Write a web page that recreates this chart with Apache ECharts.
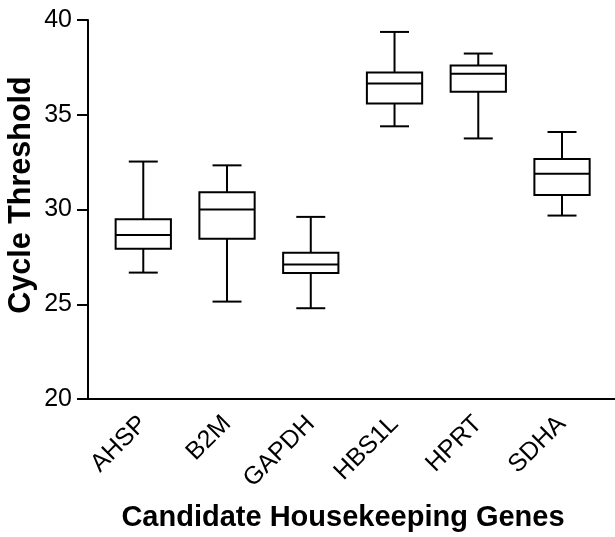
<!DOCTYPE html>
<html>
<head>
<meta charset="utf-8">
<script src="https://cdn.jsdelivr.net/npm/echarts@6/dist/echarts.min.js"></script>
<style>
html,body{margin:0;padding:0;background:#fff;}
#chart{width:615px;height:537px;}
</style>
</head>
<body>
<div id="chart"></div>
<script>
// ---- data ----
const categories = ['AHSP', 'B2M', 'GAPDH', 'HBS1L', 'HPRT', 'SDHA'];
const whiskerLow  = [26.67, 25.14, 24.79, 34.39, 33.75, 29.68];
const quartile1   = [27.93, 28.46, 26.65, 35.60, 36.21, 30.77];
const median      = [28.65, 30.00, 27.10, 36.65, 37.17, 31.89];
const quartile3   = [29.49, 30.91, 27.72, 37.23, 37.60, 32.67];
const whiskerHigh = [32.53, 32.33, 29.61, 39.37, 38.23, 34.09];
const yTicks = [20, 25, 30, 35, 40];
const xTitle = 'Candidate Housekeeping Genes';
const yTitle = 'Cycle Threshold';

const FONT = '"Liberation Sans", Arial, Helvetica, sans-serif';
const boxData = categories.map((c, i) => [i, whiskerLow[i], quartile1[i], median[i], quartile3[i], whiskerHigh[i]]);

function renderBox(params, api) {
  const x = api.value(0);
  const pMin = api.coord([x, api.value(1)]);
  const pQ1 = api.coord([x, api.value(2)]);
  const pMed = api.coord([x, api.value(3)]);
  const pQ3 = api.coord([x, api.value(4)]);
  const pMax = api.coord([x, api.value(5)]);
  const band = api.size([1, 0])[0];
  const bw = band * 0.66 / 2;
  const cw = band * 0.346 / 2;
  const cx = pMed[0];
  const st = { stroke: '#000', lineWidth: 2, fill: null };
  return {
    type: 'group',
    children: [
      { type: 'line', shape: { x1: cx, y1: pMax[1], x2: cx, y2: pQ3[1] }, style: st },
      { type: 'line', shape: { x1: cx, y1: pQ1[1], x2: cx, y2: pMin[1] }, style: st },
      { type: 'line', shape: { x1: cx - cw, y1: pMax[1], x2: cx + cw, y2: pMax[1] }, style: st },
      { type: 'line', shape: { x1: cx - cw, y1: pMin[1], x2: cx + cw, y2: pMin[1] }, style: st },
      { type: 'rect', shape: { x: cx - bw, y: pQ3[1], width: 2 * bw, height: pQ1[1] - pQ3[1] }, style: { stroke: '#000', lineWidth: 2, fill: '#fff' } },
      { type: 'line', shape: { x1: cx - bw, y1: pMed[1], x2: cx + bw, y2: pMed[1] }, style: st }
    ]
  };
}

const chart = echarts.init(document.getElementById('chart'), null, { renderer: 'canvas' });
chart.setOption({
  backgroundColor: '#fff',
  animation: false,
  grid: [
    { left: 88, right: 0, top: 20, bottom: 138 },
    { left: 101.4, right: 11.1, top: 20, bottom: 138 }
  ],
  xAxis: [
    {
      gridIndex: 0, type: 'value', min: 0, max: 1,
      axisLine: { show: true, lineStyle: { color: '#000', width: 2 } },
      axisTick: { show: false }, axisLabel: { show: false }, splitLine: { show: false }
    },
    {
      gridIndex: 1, type: 'category', data: categories,
      axisLine: { show: false }, axisTick: { show: false }, splitLine: { show: false },
      axisLabel: { rotate: 45, margin: 21, color: '#000', fontSize: 25, fontFamily: FONT, interval: 0 }
    }
  ],
  yAxis: [
    {
      gridIndex: 0, type: 'value', min: yTicks[0], max: yTicks[yTicks.length - 1], interval: 5,
      axisLine: { show: true, lineStyle: { color: '#000', width: 2 } },
      axisTick: { show: true, length: 11, lineStyle: { color: '#000', width: 2 } },
      axisLabel: { margin: 16, color: '#000', fontSize: 25, fontFamily: FONT },
      splitLine: { show: false }
    },
    {
      gridIndex: 1, type: 'value', min: yTicks[0], max: yTicks[yTicks.length - 1], show: false
    }
  ],
  graphic: [
    {
      type: 'text', x: 343, y: 518,
      style: { text: xTitle, fill: '#000', font: 'bold 29px ' + FONT, textAlign: 'center', textVerticalAlign: 'middle' }
    },
    {
      type: 'text', x: 22, y: 195, rotation: Math.PI / 2,
      style: { text: yTitle, fill: '#000', font: 'bold 30.5px ' + FONT, textAlign: 'center', textVerticalAlign: 'middle' }
    }
  ],
  series: [
    {
      type: 'custom', xAxisIndex: 1, yAxisIndex: 1,
      renderItem: renderBox,
      encode: { x: 0, y: [1, 2, 3, 4, 5] },
      data: boxData
    }
  ]
});
</script>
</body>
</html>
